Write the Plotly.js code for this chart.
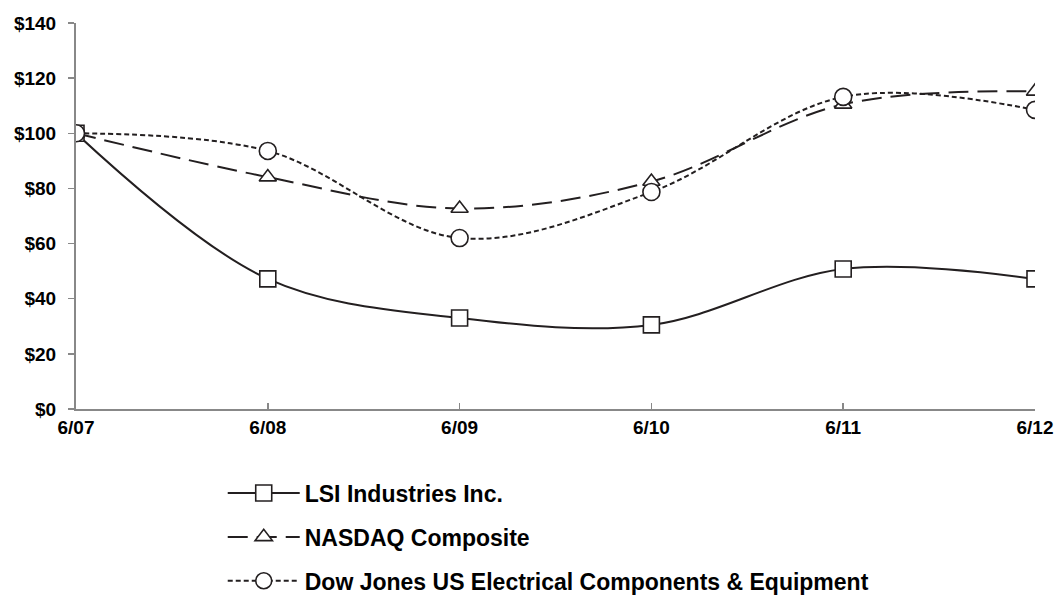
<!DOCTYPE html>
<html>
<head>
<meta charset="utf-8">
<script src="https://cdn.plot.ly/plotly-3.0.1.min.js"></script>
<style>html,body{margin:0;padding:0;background:#fff;}#chart{width:1057px;height:597px;}</style>
</head>
<body>
<div id="chart"></div>
<script>
const categories = ["6/07", "6/08", "6/09", "6/10", "6/11", "6/12"];
const lsiValues = [100, 47.2, 33.0, 30.5, 50.8, 47.2];
const nasdaqValues = [100, 84.1, 72.7, 82.5, 110.5, 115.2];
const dowJonesValues = [100, 93.6, 62.0, 78.7, 113.2, 108.5];
const yTickVals = [0, 20, 40, 60, 80, 100, 120, 140];
const yTickText = ["$0", "$20", "$40", "$60", "$80", "$100", "$120", "$140"];
const seriesNames = ["LSI Industries Inc.", "NASDAQ Composite", "Dow Jones US Electrical Components & Equipment"];

const ink = "#231f20";
const traces = [
  {x: categories, y: lsiValues, name: seriesNames[0], legendgroup: "a", type: "scatter", mode: "lines+markers",
   line: {color: ink, width: 2, shape: "spline", smoothing: 1},
   marker: {symbol: "square", size: 16, color: "#ffffff", line: {color: ink, width: 1.6}}},
  {x: categories, y: nasdaqValues, name: seriesNames[1], legendgroup: "b", type: "scatter", mode: "lines+markers",
   line: {color: ink, width: 2, shape: "spline", smoothing: 1, dash: "20px,9px"},
   marker: {symbol: "triangle-up", size: 15, color: "#ffffff", line: {color: ink, width: 1.6}}},
  {x: categories, y: dowJonesValues, name: seriesNames[2], legendgroup: "c", type: "scatter", mode: "lines+markers",
   line: {color: ink, width: 2, shape: "spline", smoothing: 1, dash: "5px,3px"},
   marker: {symbol: "circle", size: 17, color: "#ffffff", line: {color: ink, width: 1.6}}}
];

const layout = {
  width: 1057, height: 597,
  margin: {l: 76, r: 22, t: 23, b: 188, autoexpand: false},
  paper_bgcolor: "#ffffff", plot_bgcolor: "#ffffff",
  font: {family: "Liberation Sans, Arial, sans-serif", color: "#000000"},
  showlegend: true,
  legend: {
    orientation: "v", x: 0.153, xanchor: "left", y: -0.162, yanchor: "top",
    font: {size: 23, family: "Liberation Sans, Arial, sans-serif", weight: "bold", color: "#000"},
    itemwidth: 72, tracegroupgap: 11, traceorder: "grouped", bgcolor: "rgba(0,0,0,0)"
  },
  xaxis: {
    type: "category", range: [0, 5], showgrid: false, zeroline: false,
    showline: true, linecolor: "#888888", linewidth: 2,
    ticks: "inside", ticklen: 6, tickcolor: "#888888", tickwidth: 1.5,
    tickfont: {size: 19, weight: "bold", color: "#000"},
    fixedrange: true, automargin: false
  },
  yaxis: {
    range: [0, 140], showgrid: false, zeroline: false,
    showline: true, linecolor: "#888888", linewidth: 2,
    ticks: "outside", ticklen: 6, tickcolor: "#888888", tickwidth: 1.5,
    tickvals: yTickVals, ticktext: yTickText, ticklabelstandoff: 8,
    tickfont: {size: 19, weight: "bold", color: "#000"},
    fixedrange: true, automargin: false
  }
};

Plotly.newPlot("chart", traces, layout, {displayModeBar: false, staticPlot: true});
</script>
</body>
</html>
